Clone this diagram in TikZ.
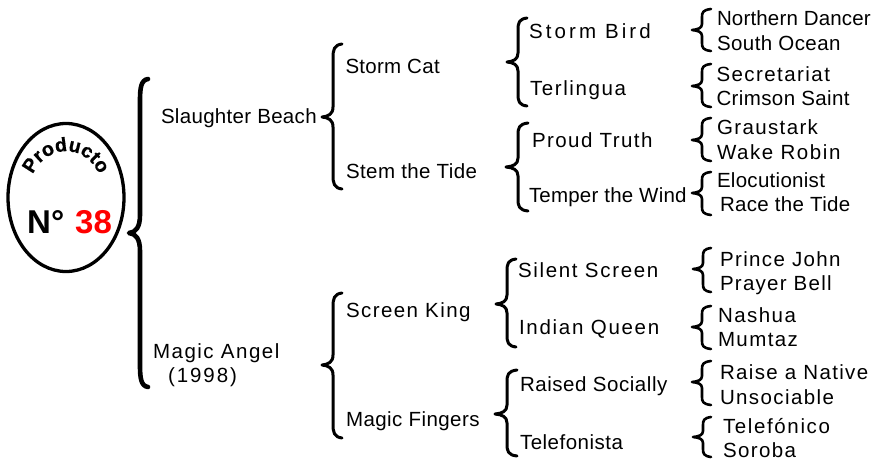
\documentclass[tikz,border=0pt]{standalone}
\usepackage{fontspec}
\setmainfont{Liberation Sans}
\usetikzlibrary{shapes.geometric,decorations.text}
\newcommand\labfont{\fontsize{20.5}{24}\selectfont}
\newsavebox\lblbox
\ExplSyntaxOn
\cs_new:Npn \lblcount #1 { \str_count:n {#1} }
\ExplSyntaxOff
% name, x, baseline, right end, text: spacing is set so the text spans x..right end
\newcommand\lbl[5]{%
  \pgfinterruptpicture\global\setbox\lblbox\hbox{\labfont #5}\endpgfinterruptpicture
  \pgfmathsetmacro\lspc{100*((#4-#2)-\the\wd\lblbox)/(\lblcount{#5}-1)/20.5}%
  \node[lab] (#1) at (#2,#3) {\labfont\addfontfeature{LetterSpace=\lspc}#5};%
}
% [style], tip x, tip y, stem x, end x, top, bottom; \brr end curve length, \brt tip curve length
\newcommand\brr{8}
\newcommand\brt{6}
\newcommand\bracket[7][]{%
  \draw[bracketline,#1] (#5,#6) .. controls ({#4+1},{#6+1}) and ({#4},{#6+0.4*\brr}) .. ({#4},{#6+\brr})
    -- ({#4},{#3-\brt}) .. controls ({#4},{#3-0.3*\brt}) and ({#4-0.4*(#4-#2)},{#3-0.6}) .. (#2,#3)
    .. controls ({#4-0.4*(#4-#2)},{#3+0.6}) and ({#4},{#3+0.3*\brt}) .. ({#4},{#3+\brt})
    -- ({#4},{#7-\brr}) .. controls ({#4},{#7-0.4*\brr}) and ({#4+1},{#7-1}) .. (#5,#7);%
}
\tikzset{
  lab/.style={anchor=base west,inner sep=0pt,outer sep=0pt},
  bracketline/.style={draw=black,line width=2.6pt,line cap=round,line join=round},
  seal/.style={draw=black,line width=3.3pt,ellipse,inner sep=0pt,minimum width=116pt,minimum height=148pt},
  numfont/.style={font=\fontsize{33}{36}\selectfont\bfseries,inner sep=0pt,anchor=base west}
}
\begin{document}
\begin{tikzpicture}[x=1pt,y=-1pt]
\useasboundingbox (0,0) rectangle (879,459);
\node[seal] (sealnode) at (66,197.5) {};
\path[decorate,decoration={text along path,text align=center,
  text={|\fontsize{19.5}{20}\selectfont\bfseries\addfontfeature{LetterSpace=2,FakeBold=0.7}|Producto}}]
  (30,182) .. controls (42,141) and (90,141) .. (102,182);
\node[numfont] (no) at (27,233) {N°};
\node[numfont,text=red] (num) at (75,233) {38};

\begin{scope}
\renewcommand\brr{22}\renewcommand\brt{18}
\bracket[line width=4.6pt]{129}{233}{140}{148}{79}{387}
\renewcommand\brr{14}\renewcommand\brt{10}
\bracket[line width=3pt]{322}{117}{333}{342}{44}{189}
\bracket[line width=3pt]{322}{365}{333}{342}{293}{438}
\renewcommand\brr{12}\renewcommand\brt{9}
\bracket[line width=3pt]{507}{62}{518}{527}{18}{106}
\bracket[line width=3pt]{506}{167}{518}{528}{123}{211}
\bracket[line width=3pt]{496}{304}{507}{516}{259}{347}
\bracket[line width=3pt]{495}{414}{507}{517}{370}{456}
\end{scope}

\bracket{692}{30}{702}{711}{9}{51}
\bracket{692}{86}{702}{711}{64}{107}
\bracket{692}{140}{702}{711}{118}{161}
\bracket{692}{193}{702}{711}{172}{215}
\bracket{693}{269}{703}{711}{248}{292}
\bracket{692}{327}{702}{711}{306}{349}
\bracket{692}{382}{702}{711}{361}{405}
\bracket{693}{437}{703}{711}{417}{457}

\lbl{a}{161}{123}{317}{Slaughter Beach}
\lbl{b}{153}{358}{281}{Magic Angel}
\lbl{c}{168}{382}{237}{(1998)}
\lbl{d}{345.5}{73}{440}{Storm Cat}
\lbl{e}{346}{178}{478}{Stem the Tide}
\lbl{f}{346}{317}{472}{Screen King}
\lbl{g}{346}{426}{480}{Magic Fingers}
\lbl{h}{529}{38}{654}{Storm Bird}
\lbl{i}{530}{95}{626}{Terlingua}
\lbl{j}{532}{147}{654}{Proud Truth}
\lbl{k}{529}{202}{687}{Temper the Wind}
\lbl{l}{518}{277}{660}{Silent Screen}
\lbl{m}{519}{334}{661}{Indian Queen}
\lbl{n}{520}{391}{668}{Raised Socially}
\lbl{o}{520}{449}{623}{Telefonista}
\lbl{p}{717}{25}{871}{Northern Dancer}
\lbl{q}{717}{50}{841}{South Ocean}
\lbl{r}{716.5}{81}{830}{Secretariat}
\lbl{s}{716.5}{105}{850}{Crimson Saint}
\lbl{t}{717}{134}{818}{Graustark}
\lbl{u}{717}{159}{842}{Wake Robin}
\lbl{v}{717}{187}{825}{Elocutionist}
\lbl{w}{720}{211}{851}{Race the Tide}
\lbl{x}{720}{266}{842}{Prince John}
\lbl{y}{720}{290}{833}{Prayer Bell}
\lbl{z}{718}{322}{796}{Nashua}
\lbl{aa}{718}{346}{798}{Mumtaz}
\lbl{ab}{720}{379}{871}{Raise a Native}
\lbl{ac}{720}{404}{834}{Unsociable}
\lbl{ad}{723}{433}{830}{Telefónico}
\lbl{ae}{723}{457}{796}{Soroba}
\end{tikzpicture}
\end{document}
